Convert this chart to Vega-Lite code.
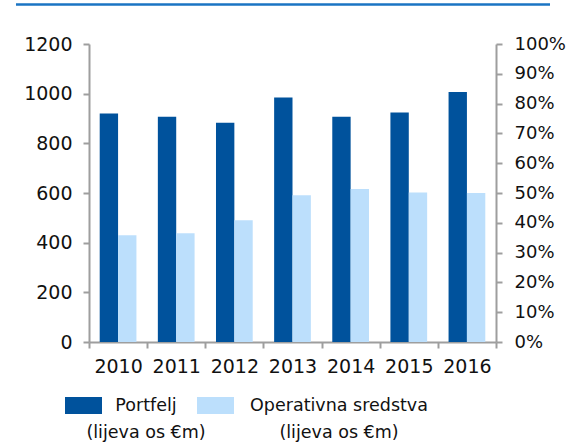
{
  "$schema": "https://vega.github.io/schema/vega-lite/v6.json",
  "width": 407,
  "height": 298,
  "padding": {"left": 14, "top": 3, "right": 2, "bottom": 2},
  "autosize": {"type": "pad"},
  "background": "white",
  "config": {
    "view": {"stroke": null},
    "font": "DejaVu Sans",
    "axis": {
      "labelFont": "DejaVu Sans",
      "labelFontSize": 19,
      "labelColor": "#111111",
      "domainColor": "#9e9e9e",
      "domainWidth": 2,
      "tickColor": "#9e9e9e",
      "tickWidth": 2,
      "tickSize": 6,
      "grid": false,
      "title": null
    },
    "legend": {
      "orient": "none",
      "direction": "horizontal",
      "title": null,
      "padding": 0,
      "symbolType": "M-1,-0.46H1V0.46H-1Z",
      "symbolSize": 1369,
      "symbolStrokeWidth": 0,
      "labelFont": "DejaVu Sans",
      "labelFontSize": 17.5,
      "labelColor": "#111111",
      "labelAlign": "center",
      "labelLimit": 400
    },
    "style": {"guide-label": {"lineHeight": 27}}
  },
  "data": {
    "values": [
      {"year": "2010", "series": "Portfelj", "value": 920},
      {"year": "2011", "series": "Portfelj", "value": 907},
      {"year": "2012", "series": "Portfelj", "value": 883},
      {"year": "2013", "series": "Portfelj", "value": 985},
      {"year": "2014", "series": "Portfelj", "value": 907},
      {"year": "2015", "series": "Portfelj", "value": 924},
      {"year": "2016", "series": "Portfelj", "value": 1007},
      {"year": "2010", "series": "Operativna sredstva", "value": 430},
      {"year": "2011", "series": "Operativna sredstva", "value": 438},
      {"year": "2012", "series": "Operativna sredstva", "value": 490},
      {"year": "2013", "series": "Operativna sredstva", "value": 591},
      {"year": "2014", "series": "Operativna sredstva", "value": 616},
      {"year": "2015", "series": "Operativna sredstva", "value": 602},
      {"year": "2016", "series": "Operativna sredstva", "value": 600}
    ]
  },
  "layer": [
    {
      "transform": [{"filter": "datum.series == 'Portfelj'"}],
      "mark": {"type": "bar"},
      "encoding": {
        "x": {
          "field": "year",
          "type": "nominal",
          "scale": {"paddingInner": 0, "paddingOuter": 0},
          "axis": {"labelAngle": 0, "tickBand": "extent", "labelPadding": 9}
        },
        "xOffset": {
          "field": "series",
          "type": "nominal",
          "scale": {"domain": ["Portfelj", "Operativna sredstva"], "paddingInner": 0, "paddingOuter": 0.583}
        },
        "y": {
          "field": "value",
          "type": "quantitative",
          "scale": {"domain": [0, 1200], "nice": false},
          "axis": {"values": [0, 200, 400, 600, 800, 1000, 1200], "format": "d", "labelPadding": 11}
        },
        "color": {
          "field": "series",
          "type": "nominal",
          "scale": {"domain": ["Portfelj"], "range": ["#00529c"]},
          "legend": {
            "legendX": -24,
            "legendY": 343,
            "labelOffset": 44,
            "labelExpr": "['Portfelj', '(lijeva os €m)']"
          }
        }
      }
    },
    {
      "transform": [{"filter": "datum.series == 'Operativna sredstva'"}],
      "mark": {"type": "bar"},
      "encoding": {
        "x": {
          "field": "year",
          "type": "nominal",
          "scale": {"paddingInner": 0, "paddingOuter": 0},
          "axis": null
        },
        "xOffset": {
          "field": "series",
          "type": "nominal",
          "scale": {"domain": ["Portfelj", "Operativna sredstva"], "paddingInner": 0, "paddingOuter": 0.583}
        },
        "y": {
          "field": "value",
          "type": "quantitative",
          "scale": {"domain": [0, 1200], "nice": false},
          "axis": null
        },
        "color": {
          "field": "series",
          "type": "nominal",
          "scale": {"domain": ["Operativna sredstva"], "range": ["#bcdffc"]},
          "legend": {
            "legendX": 108,
            "legendY": 343,
            "labelOffset": 105,
            "labelExpr": "['Operativna sredstva', '(lijeva os €m)']"
          }
        }
      }
    },
    {
      "data": {"values": [{"k": 1}]},
      "mark": {"type": "point", "opacity": 0},
      "encoding": {
        "y": {
          "datum": 0,
          "type": "quantitative",
          "scale": {"domain": [0, 1], "nice": false},
          "axis": {
            "orient": "right",
            "values": [0, 0.1, 0.2, 0.3, 0.4, 0.5, 0.6, 0.7, 0.8, 0.9, 1],
            "format": ".0%",
            "labelFontSize": 18,
            "labelPadding": 12
          }
        }
      }
    },
    {
      "data": {"values": [{"k": 1}]},
      "mark": {"type": "rule", "color": "#1a74c3", "strokeWidth": 2.5},
      "encoding": {
        "x": {"datum": -0.1794, "type": "quantitative", "scale": {"domain": [0, 1], "nice": false, "zero": false}, "axis": null},
        "x2": {"datum": 1.1327},
        "y": {"datum": 1359, "type": "quantitative", "scale": {"domain": [0, 1200], "nice": false}, "axis": null}
      }
    }
  ],
  "resolve": {"scale": {"x": "independent", "y": "independent", "color": "independent"}}
}
